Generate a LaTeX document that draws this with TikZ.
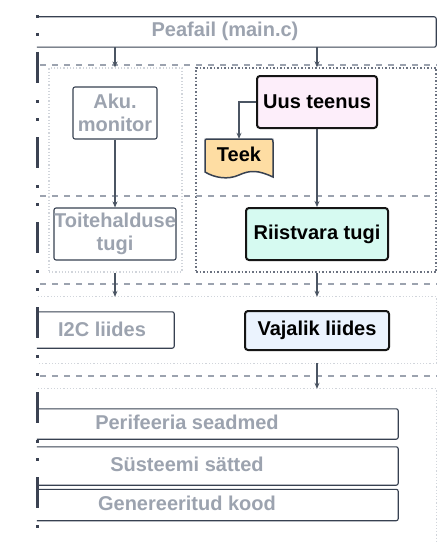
\documentclass[tikz,border=0pt]{standalone}
\usepackage{fontspec}
\setmainfont{Liberation Sans}
\usetikzlibrary{arrows.meta}
\definecolor{txtgray}{HTML}{9CA3AF}
\definecolor{edge}{HTML}{374151}
\definecolor{ink}{HTML}{151515}
\definecolor{arrowc}{HTML}{4B5563}
\definecolor{dashc}{HTML}{9CA3AF}
\definecolor{dotlight}{HTML}{D1D5DB}
\definecolor{dotdark}{HTML}{6B7280}
\definecolor{railc}{HTML}{3B4252}
\definecolor{pinkfill}{HTML}{FDEEFA}
\definecolor{mintfill}{HTML}{D6FAF1}
\definecolor{bluefill}{HTML}{EBF3FE}
\definecolor{teekfill}{HTML}{FEDDA3}
\begin{document}
\begin{tikzpicture}[x=1pt,y=-1pt,
  every node/.style={font=\fontsize{20}{23}\selectfont\bfseries, inner sep=0pt, align=center},
  graytxt/.style={text=txtgray},
  blacktxt/.style={text=black},
  lightbox/.style={draw=edge, line width=1.1pt, rounded corners=2pt, graytxt},
  keybox/.style={draw=ink, line width=2pt, rounded corners=3pt, blacktxt},
  spacer/.style={draw=none},
  layerline/.style={draw=dashc, line width=1.6pt, dash pattern=on 6pt off 6pt},
  lightframe/.style={draw=dotlight, line width=1.2pt, dotted},
  darkframe/.style={draw=dotdark, line width=1.5pt, dotted},
  conn/.style={draw=arrowc, line width=1.3pt, -{Stealth[length=6pt,width=5pt]}},
  openbox/.style={draw=edge, line width=1.1pt, rounded corners=2pt},
]
\useasboundingbox[fill=white] (0,0) rectangle (437,543);

% layer frames
\node[lightframe, minimum width=133pt, minimum height=204pt] (leftcol) at (115.5,170) {};
\node[darkframe, minimum width=240pt, minimum height=204pt] (rightcol) at (316,170) {};
\node[spacer, minimum width=398pt, minimum height=66pt] (midlayer) at (237,330) {};
\draw[lightframe] (midlayer.north west) -- (midlayer.north east) -- (midlayer.south east) -- (midlayer.south west);
\node[spacer, minimum width=398pt, minimum height=180pt] (botlayer) at (237,479) {};
\draw[lightframe] (botlayer.north west) -- (botlayer.north east) -- (botlayer.south east);

% layer separators
\draw[layerline] (40,65) -- (437,65);
\draw[layerline] (40,196) -- (437,196);
\draw[layerline] (40,284) -- (437,284);
\draw[layerline] (40,376) -- (437,376);

% main file
\node[spacer, minimum width=399pt, minimum height=30pt] (peafail) at (236.5,32) {};
\draw[openbox] (peafail.north west) -- (peafail.north east) -- (peafail.south east) -- (peafail.south west);
\node[graytxt] (peafailtxt) at (225,31) {Peafail (main.c)};

% left column
\node[lightbox, minimum width=84pt, minimum height=52pt] (aku) at (115,113) {Aku.\\monitor};
\node[lightbox, minimum width=122pt, minimum height=52pt] (toite) at (115,234) {Toitehalduse\\tugi};

% right column
\node[keybox, fill=pinkfill, minimum width=120pt, minimum height=52pt] (uus) at (317,102) {Uus teenus};
\node[keybox, fill=mintfill, minimum width=142pt, minimum height=52pt] (riist) at (317,234) {Riistvara tugi};

% library document shape
\draw[draw=edge, line width=1.5pt, fill=teekfill]
  (205,172) -- (205,142) .. controls (205,139) .. (208,139) -- (270,139)
  .. controls (273,139) .. (273,142) -- (273,177)
  .. controls (258,170) and (250,170) .. (239,175)
  .. controls (228,180) and (215,178) .. (205,172) -- cycle;
\node[blacktxt, minimum width=68pt, minimum height=30pt] (teek) at (239,154) {Teek};

% interface layer
\node[spacer, minimum width=137pt, minimum height=36pt] (i2c) at (105.5,330) {};
\draw[openbox] (i2c.north west) -- (i2c.north east) -- (i2c.south east) -- (i2c.south west);
\node[graytxt] (i2ctxt) at (102,329) {I2C liides};
\node[keybox, fill=bluefill, minimum width=144pt, minimum height=39pt] (vaj) at (317,330.5) {Vajalik liides};

% bottom layer
\node[spacer, minimum width=361pt, minimum height=30pt] (peri) at (217.5,424) {};
\draw[openbox] (peri.north west) -- (peri.north east) -- (peri.south east) -- (peri.south west);
\node[graytxt] (peritxt) at (187,422) {Perifeeria seadmed};
\node[spacer, minimum width=361pt, minimum height=38pt] (sys) at (217.5,466) {};
\draw[openbox] (sys.north west) -- (sys.north east) -- (sys.south east) -- (sys.south west);
\node[graytxt] (systxt) at (187,464) {Süsteemi sätted};
\node[spacer, minimum width=361pt, minimum height=31pt] (gen) at (217.5,505) {};
\draw[openbox] (gen.north west) -- (gen.north east) -- (gen.south east) -- (gen.south west);
\node[graytxt] (gentxt) at (187,503) {Genereeritud kood};

% connectors
\draw[conn] (peafail.south -| aku.north) -- (leftcol.north -| aku.north);
\draw[conn] (peafail.south -| uus.north) -- (rightcol.north -| uus.north);
\draw[conn] (aku.south) -- (toite.north);
\draw[conn] (uus.south) -- (riist.north);
\draw[conn] (uus.west) -| (teek.north);
\draw[conn] (leftcol.south -| aku.south) -- (midlayer.north -| aku.south);
\draw[conn] (rightcol.south -| uus.south) -- (midlayer.north -| uus.south);
\draw[conn] (midlayer.south -| vaj.south) -- (botlayer.north -| vaj.south);

% left rail
\draw[draw=railc, line width=3pt,
  dash pattern=on 31pt off 17pt on 3pt off 15pt on 3pt off 16pt, dash phase=33pt]
  (37.5,0) -- (37.5,543);
\end{tikzpicture}
\end{document}
